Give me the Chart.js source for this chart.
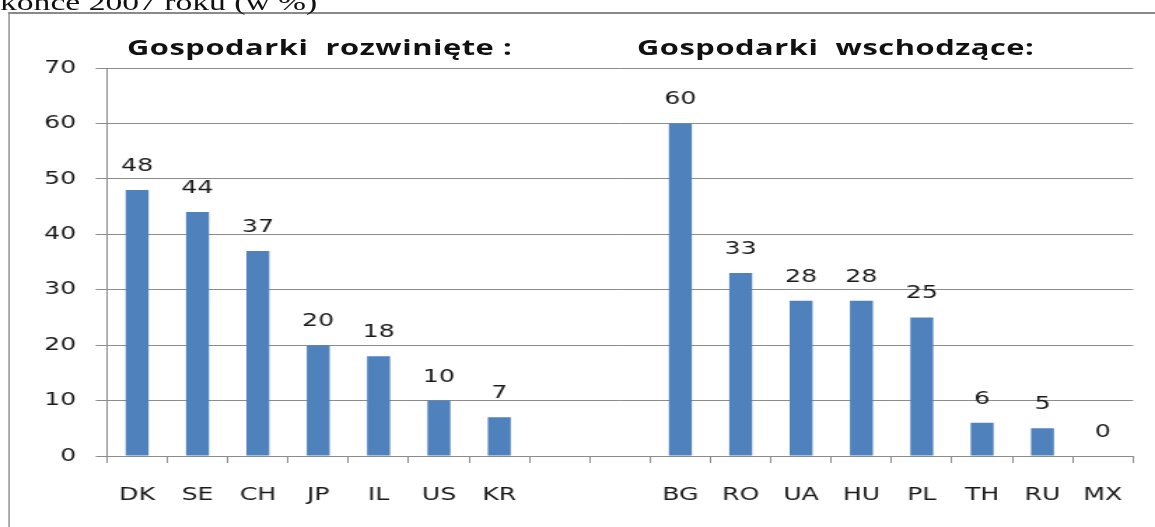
<!DOCTYPE html>
<html>
<head>
<meta charset="utf-8">
<script src="https://cdn.jsdelivr.net/npm/chart.js@4.4.1/dist/chart.umd.min.js"></script>
<style>
  html, body { margin: 0; padding: 0; background: #fff; overflow: hidden; }
  body { width: 1155px; height: 527px; position: relative; }
  /* the whole picture is drawn narrow and stretched sideways, like the original scan */
  #stage {
    position: absolute; left: 0; top: 0;
    width: 825px; height: 527px;
    transform: scaleX(1.4); transform-origin: 0 0;
  }
  #frame {
    position: absolute; left: 6px; top: 12px;
    width: 900px; height: 600px;
    border-left: 1.5px solid #8a8a8a; border-top: 2px solid #8a8a8a;
  }
  #caption {
    position: absolute; left: 0; top: -10px;
    font: 24px/24px "Liberation Serif", serif; color: #111; white-space: pre;
  }
  .group-title {
    position: absolute; top: 35px;
    font: bold 22px/22px "Open Sans", sans-serif; color: #111; white-space: pre;
    letter-spacing: 0.4px;
  }
  #chart { position: absolute; left: 0; top: 0; }
</style>
</head>
<body>
<div id="stage">
  <div id="frame"></div>
  <div id="caption">końce 2007 roku (w %)</div>
  <div class="group-title" style="left: 90.7px;">Gospodarki  rozwinięte :</div>
  <div class="group-title" style="left: 455px;">Gospodarki  wschodzące:</div>
  <canvas id="chart" width="825" height="527"></canvas>
</div>
<script>
// countries, two empty slots separate the two groups
const countries = ["DK", "SE", "CH", "JP", "IL", "US", "KR", "", "", "BG", "RO", "UA", "HU", "PL", "TH", "RU", "MX"];
const shares = [48, 44, 37, 20, 18, 10, 7, null, null, 60, 33, 28, 28, 25, 6, 5, 0];
const yMin = 0;
const yMax = 70;
const yStep = 10;

const textFont = { family: "DejaVu Sans", size: 18 };

const barLabels = {
  id: "barLabels",
  afterDatasetsDraw(chart) {
    const ctx = chart.ctx;
    const meta = chart.getDatasetMeta(0);
    ctx.save();
    ctx.font = "18px 'DejaVu Sans'";
    ctx.fillStyle = "#1a1a1a";
    ctx.textAlign = "center";
    ctx.textBaseline = "alphabetic";
    meta.data.forEach((bar, i) => {
      const v = shares[i];
      if (v === null) return;
      ctx.fillText(String(v), bar.x, bar.y - 19);
    });
    ctx.restore();
  },
};

new Chart(document.getElementById("chart").getContext("2d"), {
  type: "bar",
  data: {
    labels: countries,
    datasets: [
      {
        data: shares,
        backgroundColor: "#4f81bd",
        borderWidth: 0,
        barPercentage: 0.38,
        categoryPercentage: 1,
      },
    ],
  },
  options: {
    responsive: false,
    animation: false,
    layout: { padding: { left: 0, right: 15.7, top: 68, bottom: 0 } },
    plugins: { legend: { display: false }, tooltip: { enabled: false } },
    scales: {
      x: {
        grid: { drawOnChartArea: false, drawTicks: true, tickLength: 7, color: "#8c8c8c", offset: true },
        border: { color: "#8c8c8c", width: 1 },
        ticks: { font: textFont, color: "#1a1a1a", padding: 22, maxRotation: 0, autoSkip: false },
        afterFit: (scale) => { scale.height = 71; },
      },
      y: {
        min: yMin,
        max: yMax,
        grid: { color: "#8c8c8c", tickLength: 8 },
        border: { color: "#8c8c8c", width: 1 },
        ticks: { stepSize: yStep, font: textFont, color: "#1a1a1a", padding: 14 },
        afterFit: (scale) => { scale.width = 76.4; },
      },
    },
  },
  plugins: [barLabels],
});
</script>
</body>
</html>
